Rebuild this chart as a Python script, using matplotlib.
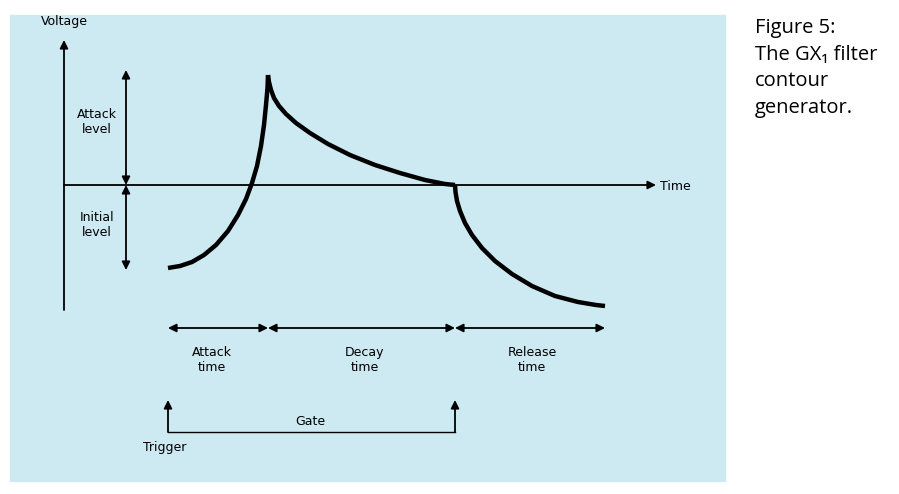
import matplotlib
matplotlib.use("Agg")
import matplotlib.pyplot as plt

attack_x = [168, 180, 192, 204, 216, 228, 238, 246, 252, 257, 261, 264, 266, 267.5, 268]
attack_y = [268, 266, 262, 255, 245, 231, 215, 199, 183, 166, 146, 125, 105, 88, 75]
decay_x = [268, 269, 271, 274, 279, 286, 296, 310, 328, 350, 375, 400, 425, 445, 455]
decay_y = [75, 82, 90, 98, 106, 114, 123, 133, 144, 155, 165, 173, 180, 184, 185]
release_x = [455, 455.5, 457, 460, 465, 472, 482, 495, 512, 532, 555, 578, 596, 605]
release_y = [185, 192, 201, 211, 223, 235, 248, 261, 274, 286, 296, 302, 305, 306]

BG = "#cdeaf3"
fig = plt.figure(figsize=(8.99, 4.94), dpi=100)
ax = fig.add_axes([0, 0, 1, 1])
ax.set_xlim(0, 899); ax.set_ylim(494, 0); ax.axis("off")
ax.add_patch(plt.Rectangle((10, 15), 715, 466, color=BG, zorder=0))

lw = 1.3
def arrow(x1, y1, x2, y2, both=False):
    ax.annotate("", xy=(x2, y2), xytext=(x1, y1),
                arrowprops=dict(arrowstyle="<|-|>" if both else "-|>", color="black",
                                lw=lw, shrinkA=0, shrinkB=0, mutation_scale=12))

# axes
arrow(64, 310, 64, 40)
arrow(64, 185, 656, 185)
ax.text(41, 21, "Voltage", fontsize=9, va="center", ha="left")
ax.text(660, 186, "Time", fontsize=9, va="center", ha="left")

# level arrows
arrow(126, 185, 126, 70, both=True)
arrow(126, 185, 126, 270, both=True)
ax.text(97, 122, "Attack\nlevel", fontsize=9, ha="center", va="center", linespacing=1.2)
ax.text(97, 225, "Initial\nlevel", fontsize=9, ha="center", va="center", linespacing=1.2)

# envelope
for xs, ys in ((attack_x, attack_y), (decay_x, decay_y), (release_x, release_y)):
    ax.plot(xs, ys, color="black", lw=3.2, solid_capstyle="butt", solid_joinstyle="round")

# time arrows
arrow(168, 328, 268, 328, both=True)
arrow(268, 328, 455, 328, both=True)
arrow(455, 328, 605, 328, both=True)
ax.text(212, 360, "Attack\ntime", fontsize=9, ha="center", va="center", linespacing=1.2)
ax.text(365, 360, "Decay\ntime", fontsize=9, ha="center", va="center", linespacing=1.2)
ax.text(532, 360, "Release\ntime", fontsize=9, ha="center", va="center", linespacing=1.2)

# gate
ax.plot([168, 455], [432, 432], color="black", lw=1)
arrow(168, 432, 168, 400)
arrow(455, 432, 455, 400)
ax.text(310, 421, "Gate", fontsize=9, ha="center", va="center")
ax.text(165, 447, "Trigger", fontsize=9, ha="center", va="center")

ax.text(755, 18, "Figure 5:\nThe GX₁ filter\ncontour\ngenerator.", fontsize=14.5,
        ha="left", va="top", linespacing=1.45, family=["Open Sans", "DejaVu Sans"])

fig.savefig("out.png", dpi=100)
